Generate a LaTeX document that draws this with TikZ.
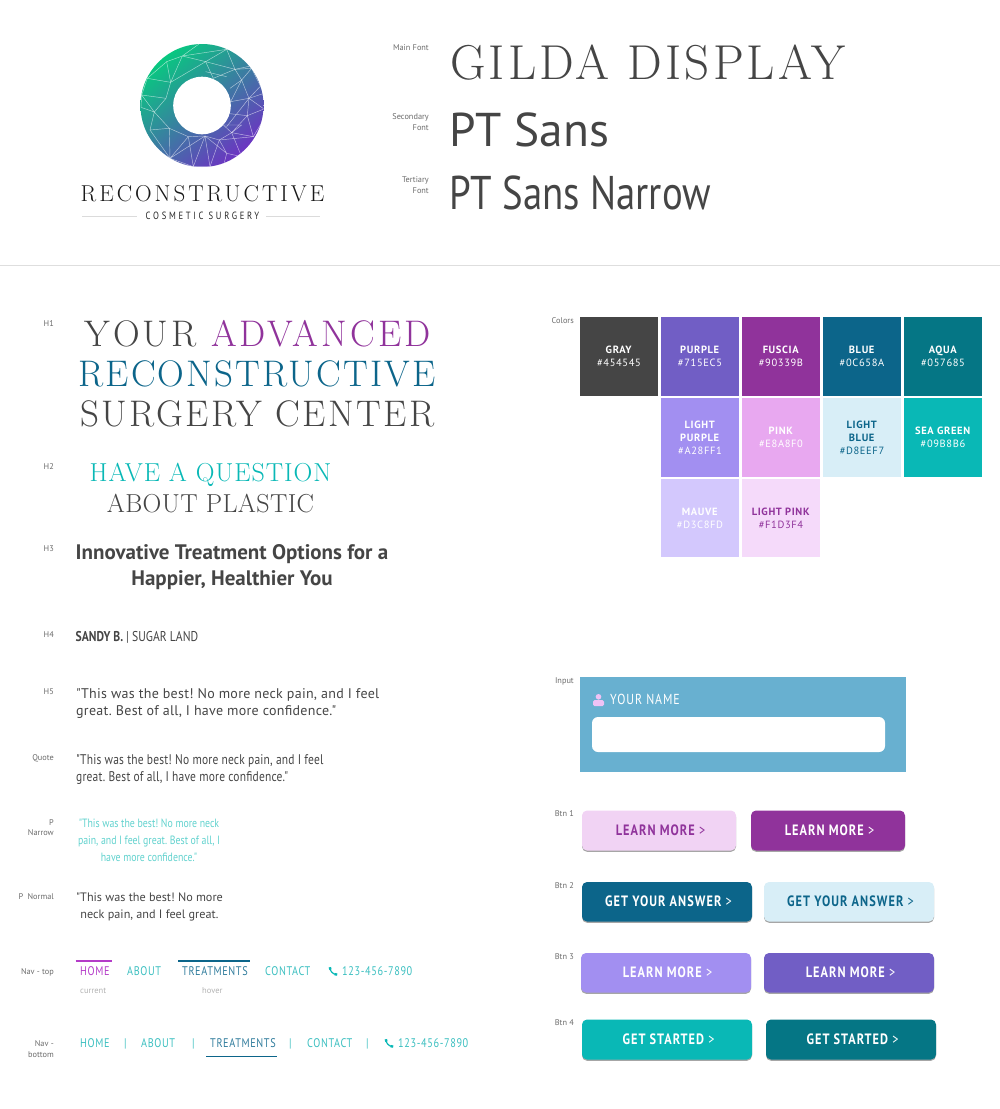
\documentclass[tikz,border=0pt]{standalone}
\usepackage{fontspec}
\setmainfont{Latin Modern Roman}
\setsansfont{PT Sans}
\newfontfamily\pt{PT Sans}
\newfontfamily\ptn[FakeStretch=0.82]{PT Sans}
\newfontfamily\gilda{Latin Modern Roman}
\newcommand\fs[1]{\fontsize{#1}{#1}\selectfont}
\newcommand\ls[1]{\addfontfeatures{LetterSpace=#1}}
\definecolor{cgray}{HTML}{454545}
\definecolor{cpurple}{HTML}{715EC5}
\definecolor{cfuscia}{HTML}{90339B}
\definecolor{cblue}{HTML}{0C658A}
\definecolor{caqua}{HTML}{057685}
\definecolor{clpurple}{HTML}{A28FF1}
\definecolor{cpink}{HTML}{E8A8F0}
\definecolor{clblue}{HTML}{D8EEF7}
\definecolor{csea}{HTML}{09B8B6}
\definecolor{cmauve}{HTML}{D3C8FD}
\definecolor{clpink}{HTML}{F1D3F4}
\definecolor{clpinks}{HTML}{F5DAFA}
\definecolor{cinput}{HTML}{68B0D0}
\definecolor{clabel}{HTML}{6A6A6A}
\definecolor{cnavt}{HTML}{3CBFC0}
\definecolor{cnarrow}{HTML}{62D2CE}
\definecolor{chome}{HTML}{B43CC8}
\definecolor{cgA}{RGB}{8,200,128}
\definecolor{cgB}{RGB}{35,150,165}
\definecolor{cgC}{RGB}{108,52,194}
\tikzset{
  txtl/.style={inner sep=0pt,anchor=base west,text=cgray},
  txtc/.style={inner sep=0pt,anchor=base,text=cgray},
  lbl/.style={inner sep=0pt,anchor=base east,text=clabel,font={\pt\fs{8.3}}},
  swatchbox/.style={inner sep=0pt,minimum width=78pt,minimum height=78.5pt,align=center,font={\pt\fs{10.5}\ls{6}}},
  navitem/.style={inner sep=0pt,anchor=base west,text=cnavt,font={\ptn\fs{12.5}\ls{5}}},
  bar/.style={line width=1.6pt},
  btnbox/.style={rounded corners=5pt,draw=none},
  mesh/.style={draw=white,draw opacity=.6,line width=.45pt,line join=round}
}
\newcommand\swatch[6]{\node[swatchbox,fill=#4,text=#5] (#1) at (#2,#3) {#6};}
\newcommand\btn[9]{%
  \fill[btnbox,fill=black!35] (#2,#3+1.3) rectangle (#4,#5+1.3);
  \fill[btnbox,fill=#6] (#2,#3) rectangle (#4,#5);
  \node[inner sep=0pt,text=#7,font={\ptn\fs{15}\bfseries\ls{#9}}] (#1) at ({(#2+#4)/2+1.5},{(#3+#5)/2+1.5}) {\strut #8 {\mdseries >}};}
\newcommand\phoneicon[2]{%
  \draw[csea,line width=1.2pt] (#1+.9,#2+.8) .. controls (#1+1.2,#2+4.5) and (#1+4,#2+7.2) .. (#1+7.6,#2+7.6);
  \draw[csea,line width=2.4pt] (#1+.9,#2+.2) -- (#1+1.4,#2+2.6) (#1+5.6,#2+7.1) -- (#1+8.2,#2+7.6);}
\frenchspacing
\begin{document}
\begin{tikzpicture}[x=1pt,y=-1pt]
\useasboundingbox (0,0) rectangle (1000,1109);
% ---------- logo
\begin{scope}
  \clip (202,105.5) circle (61.5);
  \shade[top color=cgA,middle color=cgB,bottom color=cgC,shading angle=40] (140.5,44) rectangle (263.5,167);
  \begin{scope}[shift={(60,30)},x=.3333pt,y=-.3333pt]
    \draw[mesh] (417,42)--(367,78)--(500,58)--(437,95)--(367,78)--(320,95)--(332,157)--(262,145);
    \draw[mesh] (560,70)--(500,58)--(525,118)--(437,95)--(332,157)--(367,78);
    \draw[mesh] (332,157)--(318,205)--(245,195)--(262,145)--(320,95);
    \draw[mesh] (318,205)--(283,246)--(243,232)--(245,195)--(283,246)--(328,295)--(270,300)--(283,246);
    \draw[mesh] (270,300)--(330,385)--(328,295)--(385,320)--(330,385)--(435,318)--(400,410)--(385,320);
    \draw[mesh] (385,320)--(435,318)--(478,330)--(515,308)--(562,257)--(567,205)--(545,150)--(525,118)--(575,115)--(545,150);
    \draw[mesh] (437,95)--(460,145)--(525,118)--(610,100);
    \draw[mesh] (510,175)--(545,150)--(512,215)--(567,205)--(612,190)--(575,115);
    \draw[mesh] (567,205)--(600,170);
    \draw[mesh] (500,250)--(562,257)--(612,237)--(567,205)--(500,290);
    \draw[mesh] (562,257)--(580,320)--(515,308)--(490,285)--(545,285)--(515,308);
    \draw[mesh] (478,330)--(450,410)--(435,318)--(500,370)--(478,330);
    \draw[mesh] (500,370)--(490,410)--(450,410)--(400,410)--(330,385);
    \draw[mesh] (515,308)--(545,380)--(500,370);
    \draw[mesh] (478,330)--(580,320)--(610,270);
    \draw[mesh] (500,140)--(437,125);
  \end{scope}
\end{scope}
\fill[white] (202,105.5) circle (28.8);
\node[txtc,text=black!90,font={\gilda\fs{23}\ls{13}}] (logoname) at (202.5,201) {RECONSTRUCTIVE};
\node[txtc,text=black!85,font={\ptn\fs{10.5}\ls{26}}] (logosub) at (202.5,219) {COSMETIC SURGERY};
\coordinate (ll0) at (82,216); \coordinate (ll1) at (137,216);
\coordinate (lr0) at (266,216); \coordinate (lr1) at (320,216);
\draw[black!14,line width=.7pt] (ll0)--(ll1) (lr0)--(lr1);
% ---------- font specimens
\node[lbl] (lmain) at (429,50) {Main Font};
\node[lbl] (lsec1) at (429,119) {Secondary};
\node[lbl] (lsec2) at (429,130) {Font};
\node[lbl] (lter1) at (429,182) {Tertiary};
\node[lbl] (lter2) at (429,193) {Font};
\node[txtl,font={\gilda\fs{49}\ls{6.4}}] (smain) at (450,79) {GILDA DISPLAY};
\node[txtl,font={\pt\fs{47.4}}] (ssec) at (449.5,146.5) {PT Sans};
\node[txtl,font={\ptn\fs{47.3}}] (ster) at (449.5,209) {PT Sans Narrow};
\coordinate (d0) at (0,265.5); \coordinate (d1) at (1000,265.5);
\draw[black!13,line width=1pt] (d0)--(d1);
% ---------- type labels
\node[lbl] (lh1) at (54,326) {H1};
\node[lbl] (lh2) at (54,469) {H2};
\node[lbl] (lh3) at (54,551) {H3};
\node[lbl] (lh4) at (54,637) {H4};
\node[lbl] (lh5) at (54,694) {H5};
\node[lbl] (lq) at (54,760) {Quote};
\node[lbl] (lp1) at (54,825) {P};
\node[lbl] (lp2) at (54,835) {Narrow};
\node[lbl] (lpn) at (54,899) {P\ \ Normal};
\node[lbl] (lnt) at (54,974) {Nav - top};
\node[lbl] (lnb1) at (54,1046) {Nav -};
\node[lbl] (lnb2) at (54,1057) {bottom};
\node[lbl] (lcol) at (574,323) {Colors};
\node[lbl] (linp) at (574,683) {Input};
\node[lbl] (lb1) at (574,816) {Btn 1};
\node[lbl] (lb2) at (574,888) {Btn 2};
\node[lbl] (lb3) at (574,959) {Btn 3};
\node[lbl] (lb4) at (574,1025) {Btn 4};
% ---------- headings
\node[txtc,font={\gilda\fs{37}\ls{8.3}}] (h1a) at (257.5,346) {YOUR \textcolor{cfuscia}{ADVANCED}};
\node[txtc,text=cblue,font={\gilda\fs{37}\ls{5.8}}] (h1b) at (257,386) {RECONSTRUCTIVE};
\node[txtc,font={\gilda\fs{37}\ls{6.6}}] (h1c) at (257.5,426) {SURGERY CENTER};
\node[txtc,text=csea,font={\gilda\fs{26}\ls{3.6}}] (h2a) at (210.5,481) {HAVE A QUESTION};
\node[txtc,font={\gilda\fs{26}\ls{1.5}}] (h2b) at (210.5,512) {ABOUT PLASTIC};
\node[txtc,font={\pt\fs{21}\bfseries}] (h3a) at (232,559) {Innovative Treatment Options for a};
\node[txtc,font={\pt\fs{21}\bfseries}] (h3b) at (232,585) {Happier, Healthier You};
\node[txtl,font={\ptn\fs{14.2}}] (h4) at (75.5,641) {\textbf{SANDY B.} | SUGAR LAND};
\node[txtl,font={\pt\fs{14}\ls{2}}] (h5a) at (76,698) {"This was the best! No more neck pain, and I feel};
\node[txtl,font={\pt\fs{14}\ls{2}}] (h5b) at (76,715) {great. Best of all, I have more confidence."};
\node[txtl,font={\ptn\fs{14}\ls{1.4}}] (qa) at (76,764) {"This was the best! No more neck pain, and I feel};
\node[txtl,font={\ptn\fs{14}\ls{1.4}}] (qb) at (76,781) {great. Best of all, I have more confidence."};
\node[txtc,text=cnarrow,font={\ptn\fs{12}}] (pna) at (149,827) {"This was the best! No more neck};
\node[txtc,text=cnarrow,font={\ptn\fs{12}}] (pnb) at (149,844) {pain, and I feel great. Best of all, I};
\node[txtc,text=cnarrow,font={\ptn\fs{12}}] (pnc) at (149,861) {have more confidence."};
\node[txtc,font={\pt\fs{12.2}}] (pa) at (149.5,901) {"This was the best! No more};
\node[txtc,font={\pt\fs{12.2}}] (pb) at (149.5,918) {neck pain, and I feel great.};
% ---------- nav top
\node[navitem,text=chome] (nh) at (80,975) {HOME};
\node[navitem] (na) at (127,975) {ABOUT};
\node[navitem,text=cblue!85!white] (nt) at (182,975) {TREATMENTS};
\node[navitem] (nc) at (265,975) {CONTACT};
\node[navitem] (nn) at (342,975) {123-456-7890};
\phoneicon{329}{967}
\coordinate (bh0) at (75.5,961); \coordinate (bh1) at (112,961);
\coordinate (bt0) at (178,961); \coordinate (bt1) at (250,961);
\draw[bar,draw=chome] (bh0)--(bh1);
\draw[bar,draw=cblue] (bt0)--(bt1);
\node[txtl,text=black!30,font={\pt\fs{8.5}}] (ncur) at (80,993) {current};
\node[txtl,text=black!30,font={\pt\fs{8.5}}] (nhov) at (202,993) {hover};
% ---------- nav bottom
\node[navitem] (mh) at (80,1047) {HOME};
\node[navitem] (ms1) at (124,1047) {|};
\node[navitem] (ma) at (141,1047) {ABOUT};
\node[navitem] (ms2) at (192,1047) {|};
\node[navitem,text=cblue!85!white] (mt) at (210,1047) {TREATMENTS};
\node[navitem] (ms3) at (289,1047) {|};
\node[navitem] (mc) at (307,1047) {CONTACT};
\node[navitem] (ms4) at (366,1047) {|};
\node[navitem] (mn) at (398,1047) {123-456-7890};
\phoneicon{385}{1039}
\coordinate (bm0) at (206,1056.5); \coordinate (bm1) at (277,1056.5);
\draw[bar,draw=cblue] (bm0)--(bm1);
% ---------- swatches
\swatch{s1}{619}{356.5}{cgray}{white}{\textbf{GRAY}\\[2.5pt]\#454545}
\swatch{s2}{700}{356.5}{cpurple}{white}{\textbf{PURPLE}\\[2.5pt]\#715EC5}
\swatch{s3}{781}{356.5}{cfuscia}{white}{\textbf{FUSCIA}\\[2.5pt]\#90339B}
\swatch{s4}{862}{356.5}{cblue}{white}{\textbf{BLUE}\\[2.5pt]\#0C658A}
\swatch{s5}{943}{356.5}{caqua}{white}{\textbf{AQUA}\\[2.5pt]\#057685}
\swatch{s6}{700}{437.5}{clpurple}{white}{\textbf{LIGHT}\\[2.5pt]\textbf{PURPLE}\\[2.5pt]\#A28FF1}
\swatch{s7}{781}{437.5}{cpink}{white}{\textbf{PINK}\\[2.5pt]\#E8A8F0}
\swatch{s8}{862}{437.5}{clblue}{cblue}{\textbf{LIGHT}\\[2.5pt]\textbf{BLUE}\\[2.5pt]\#D8EEF7}
\swatch{s9}{943}{437.5}{csea}{white}{\textbf{SEA GREEN}\\[2.5pt]\#09B8B6}
\swatch{s10}{700}{518}{cmauve}{white}{\textbf{MAUVE}\\[2.5pt]\#D3C8FD}
\swatch{s11}{781}{518}{clpinks}{cfuscia}{\textbf{LIGHT PINK}\\[2.5pt]\#F1D3F4}
% ---------- input
\fill[cinput] (580,677) rectangle (906,772);
\fill[white,rounded corners=6pt] (592,717) rectangle (885,752);
\fill[cpink!70!white] (598.5,696.8) circle (2.8);
\fill[cpink!70!white,rounded corners=1.5pt] (593,706) rectangle (604,700);
\node[txtl,text=white,font={\ptn\fs{14.5}\ls{6.5}}] (inp) at (610,704.5) {YOUR NAME};
% ---------- buttons
\btn{b1a}{582}{810.5}{736}{850.5}{clpink}{cfuscia}{LEARN MORE}{7}
\btn{b1b}{751}{810.5}{905}{850.5}{cfuscia}{white}{LEARN MORE}{7}
\btn{b2a}{582}{882}{752}{921.5}{cblue}{white}{GET YOUR ANSWER}{7}
\btn{b2b}{764}{882}{934}{921.5}{clblue}{cblue}{GET YOUR ANSWER}{7}
\btn{b3a}{581}{953}{751}{992.5}{clpurple}{white}{LEARN MORE}{7}
\btn{b3b}{764}{953}{934}{992.5}{cpurple}{white}{LEARN MORE}{7}
\btn{b4a}{582}{1019.5}{752}{1059.5}{csea}{white}{GET STARTED}{7}
\btn{b4b}{766}{1019.5}{936}{1059.5}{caqua}{white}{GET STARTED}{7}
\end{tikzpicture}
\end{document}
